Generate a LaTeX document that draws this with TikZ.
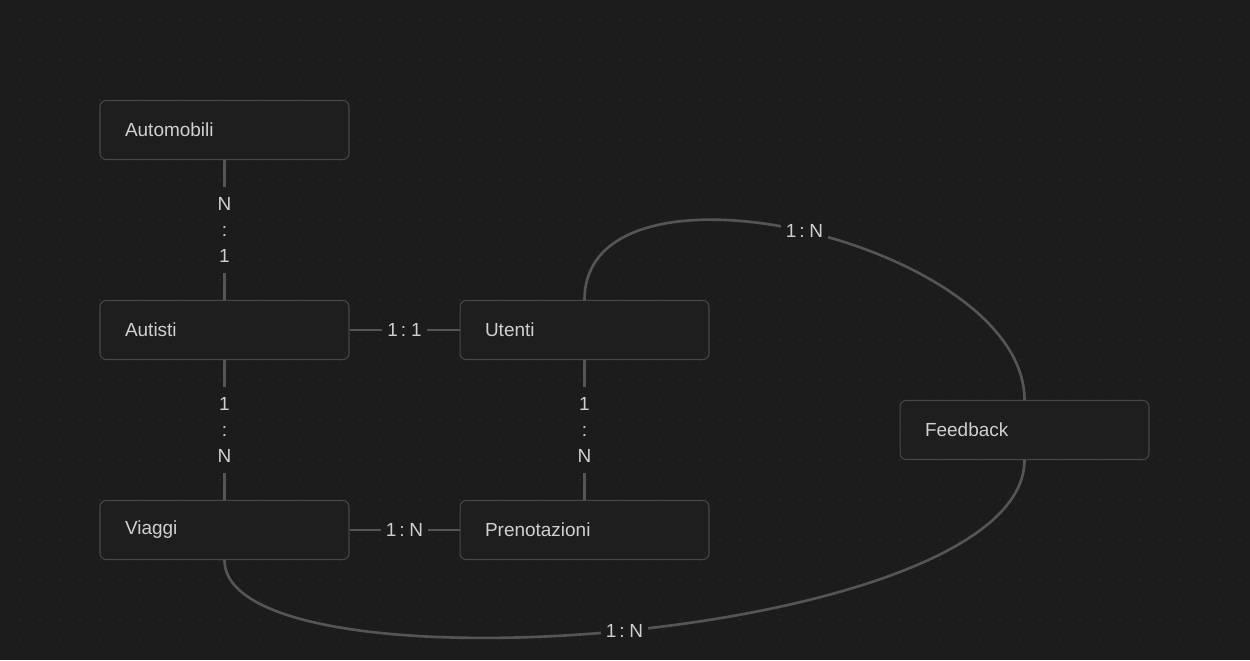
\documentclass[tikz,border=0pt]{standalone}
\usepackage{fontspec}
\setmainfont{Liberation Sans}
\usetikzlibrary{positioning}

\definecolor{bgcol}{HTML}{1C1C1C}
\definecolor{dotcol}{HTML}{2F2F2F}
\definecolor{boxfill}{HTML}{1E1E1E}
\definecolor{boxline}{HTML}{464646}
\definecolor{relline}{HTML}{555555}
\definecolor{txtcol}{HTML}{D0D0D0}

\newcommand{\cardfont}{\fontsize{10.8}{12}\selectfont\spaceskip=0.16em plus 0.05em\relax}

\tikzset{
  entity/.style={draw=boxline, fill=boxfill, line width=0.6pt, rounded corners=0.12cm,
    minimum width=4.98cm, minimum height=1.18cm, text width=3.98cm, inner xsep=0.5cm,
    inner ysep=0pt, align=left, text=txtcol, font=\fontsize{10.8}{12}\selectfont},
  rel/.style={draw=relline, line width=1.5pt},
  card/.style={fill=bgcol, text=txtcol, inner xsep=3pt, inner ysep=2pt, font=\cardfont},
  vcard/.style={card, align=center, inner ysep=6pt, font=\fontsize{10.8}{14.7}\selectfont}
}

\begin{document}
\begin{tikzpicture}[x=0.02cm, y=-0.02cm]
                  \fill[bgcol] (0,0) rectangle (1250,660);
                  \useasboundingbox (0,0) rectangle (1250,660);

                  \foreach \i in {1,...,62}
                  \foreach \j in {1,...,32}
                  \fill[dotcol] (20*\i, 20*\j) circle (0.8);

                  \node[entity] (automobili) at (224.5, 130) {Automobili};
                  \node[entity] (autisti) at (224.5, 330) {Autisti};
                  \node[entity] (utenti) at (584.5, 330) {Utenti};
                  \node[entity] (viaggi) at (224.5, 530) {Viaggi};
                  \node[entity] (prenotazioni) at (584.5, 530) {Prenotazioni};
                  \node[entity] (feedback) at (1024.5, 430) {Feedback};

                  \draw[rel] (automobili) -- node[vcard] {N\\:\\1} (autisti);
                  \draw[rel] (autisti) -- node[card] {1 : 1} (utenti);
                  \draw[rel] (autisti) -- node[vcard] {1\\:\\N} (viaggi);
                  \draw[rel] (utenti) -- node[vcard] {1\\:\\N} (prenotazioni);
                  \draw[rel] (viaggi) -- node[card] {1 : N} (prenotazioni);

                  \draw[rel] (utenti.north) .. controls +(0,-160) and +(0,-157) .. node[card] {1 : N} (feedback.north);
                  \draw[rel] (viaggi.south) .. controls +(0,140) and +(0,182) .. node[card] {1 : N} (feedback.south);
              \end{tikzpicture}
\end{document}
